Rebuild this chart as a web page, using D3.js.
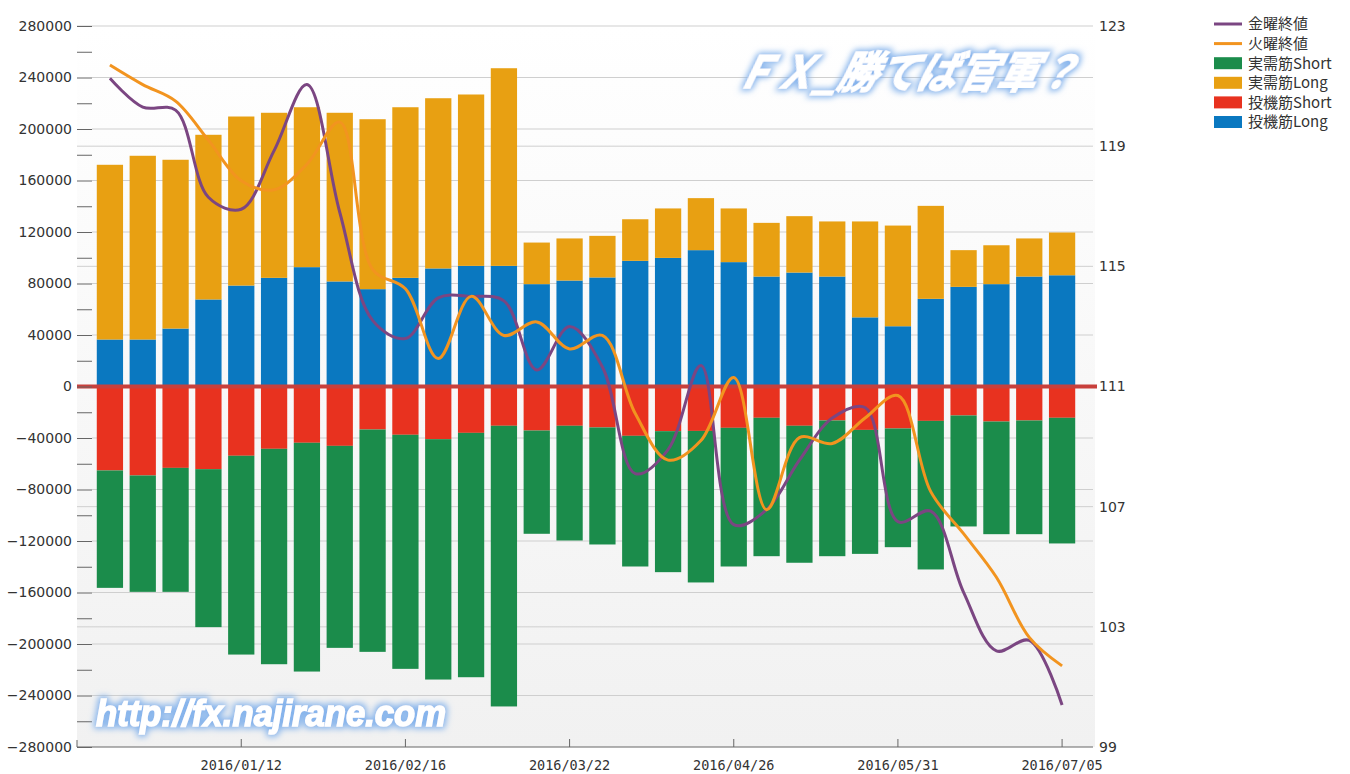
<!DOCTYPE html>
<meta charset="utf-8">
<style>
body { margin: 0; background: #fff; }
.axis text { font-family: "DejaVu Sans", sans-serif; font-size: 14px; fill: #333; }
.axis--x text { font-family: "DejaVu Sans Mono", monospace; font-size: 13.5px; }
.axis line { stroke: #666; }
.grid line { stroke: #cfcfcf; }
.legend text { font-family: "Noto Sans CJK JP", sans-serif; font-size: 15px; fill: #333; }
.mark { font-weight: bold; fill: #fff; font-style: italic; stroke: #fff; stroke-width: 1.5; }
</style>
<svg width="1350" height="774"></svg>
<script src="https://d3js.org/d3.v7.min.js"></script>
<script>

var dates = ["2015/12/15","2015/12/22","2015/12/29","2016/01/05","2016/01/12","2016/01/19",
  "2016/01/26","2016/02/02","2016/02/09","2016/02/16","2016/02/23","2016/03/01",
  "2016/03/08","2016/03/15","2016/03/22","2016/03/29","2016/04/05","2016/04/12",
  "2016/04/19","2016/04/26","2016/05/03","2016/05/10","2016/05/17","2016/05/24",
  "2016/05/31","2016/06/07","2016/06/14","2016/06/21","2016/06/28","2016/07/05"];

// 投機筋Long
var specLong = [36500, 36500, 45000, 67600, 78400, 84400, 92700, 81600, 75600, 84400,
  91700, 93700, 93700, 79500, 82300, 84700, 97600, 99900, 105900, 96600,
  85400, 88500, 85400, 53700, 46800, 68100, 77400, 79500, 85400, 86400];
// 実需筋Long
var commLong = [135700, 142700, 131100, 127900, 131300, 128200, 124200, 131000, 132000, 132500,
  132200, 133100, 153500, 32300, 32700, 32300, 32300, 38400, 40400, 41700,
  41700, 43800, 42800, 74500, 78200, 72200, 28500, 30200, 29600, 33200];
// 投機筋Short
var specShort = [-65200, -69100, -63200, -64200, -53800, -48400, -43700, -46100, -33400, -37500,
  -40900, -36000, -30500, -34200, -30500, -31800, -38300, -34700, -34500, -32100,
  -24300, -30500, -26400, -33700, -32600, -26700, -22500, -27200, -26400, -24300];
// 実需筋Short
var commShort = [-91200, -90400, -96300, -122700, -154400, -167300, -177700, -156900, -172700, -181800,
  -186700, -189800, -218000, -80200, -89100, -90900, -101500, -109500, -117700, -107700,
  -107500, -106400, -105400, -96300, -92200, -115400, -86200, -87500, -88300, -97600];

// 金曜終値 / 火曜終値
var friClose = [121.26, 120.3, 120.2, 117.3, 116.9, 118.85, 121.05, 116.8, 113.2, 112.6,
  113.95, 114.0, 113.85, 111.55, 113.0, 111.65, 108.1, 108.9, 111.7, 106.4,
  106.9, 108.55, 109.95, 110.3, 106.5, 106.85, 104.15, 102.2, 102.55, 100.4];
var tueClose = [121.7, 121.05, 120.5, 119.2, 117.85, 117.55, 118.4, 119.8, 114.9, 114.25,
  111.93, 114.0, 112.7, 113.15, 112.25, 112.7, 110.1, 108.55, 109.2, 111.3,
  106.9, 109.3, 109.1, 109.95, 110.7, 107.5, 106.1, 104.65, 102.65, 101.7];

var leftTicks = d3.range(-280000, 280001, 40000),
    leftMinor = d3.range(-260000, 280000, 40000),
    rightTicks = [99, 103, 107, 111, 115, 119, 123],
    dateTicks = ["2016/01/12","2016/02/16","2016/03/22","2016/04/26","2016/05/31","2016/07/05"];

var series = [
  {key: "specLong", name: "投機筋Long", color: "#0a78c0", values: specLong},
  {key: "commLong", name: "実需筋Long", color: "#e8a012", values: commLong},
  {key: "specShort", name: "投機筋Short", color: "#e8321f", values: specShort},
  {key: "commShort", name: "実需筋Short", color: "#1b8c4b", values: commShort}
];
var lines = [
  {name: "金曜終値", color: "#7b4682", values: friClose},
  {name: "火曜終値", color: "#f2941f", values: tueClose}
];

var svg = d3.select("svg"),
    axisL = 77, plotL = 92, plotR = 1093, plotTop = 26, plotBottom = 747;

var x = d3.scaleBand().domain(dates).range([93.5, 1078.5]).paddingInner(0.2).paddingOuter(0.1),
    yL = d3.scaleLinear().domain([-280000, 280000]).range([plotBottom, plotTop]),
    yR = d3.scaleLinear().domain([99, 123]).range([plotBottom, plotTop]);

var defs = svg.append("defs");
var grad = defs.append("linearGradient").attr("id", "bg").attr("x1", 0).attr("y1", 0).attr("x2", 0).attr("y2", 1);
grad.append("stop").attr("offset", "0%").attr("stop-color", "#ffffff");
grad.append("stop").attr("offset", "100%").attr("stop-color", "#f1f1f1");

var glow = defs.append("filter").attr("id", "glow").attr("x", "-20%").attr("y", "-50%").attr("width", "140%").attr("height", "200%");
glow.append("feMorphology").attr("operator", "dilate").attr("radius", 2).attr("in", "SourceAlpha").attr("result", "d");
glow.append("feGaussianBlur").attr("in", "d").attr("stdDeviation", 3).attr("result", "b");
glow.append("feFlood").attr("flood-color", "#86b4ec").attr("result", "c");
glow.append("feComposite").attr("in", "c").attr("in2", "b").attr("operator", "in").attr("result", "g");
var mg = glow.append("feMerge");
mg.append("feMergeNode").attr("in", "g");
mg.append("feMergeNode").attr("in", "SourceGraphic");

svg.append("rect")
    .attr("x", axisL).attr("y", plotTop)
    .attr("width", 1095 - axisL).attr("height", plotBottom - plotTop)
    .attr("fill", "url(#bg)");

// grid lines
var grid = svg.append("g").attr("class", "grid");
grid.selectAll(".gl").data(leftTicks.slice(1, -1))
  .enter().append("line")
    .attr("x1", plotL).attr("x2", plotR)
    .attr("y1", function(d) { return yL(d); }).attr("y2", function(d) { return yL(d); });
grid.selectAll(".gr").data(rightTicks.slice(1))
  .enter().append("line")
    .attr("x1", axisL).attr("x2", plotR)
    .attr("y1", function(d) { return yR(d); }).attr("y2", function(d) { return yR(d); });

// stacked bars
var table = dates.map(function(d, i) {
  var row = {date: d};
  series.forEach(function(s) { row[s.key] = s.values[i]; });
  return row;
});
var stack = d3.stack().keys(series.map(function(s) { return s.key; })).offset(d3.stackOffsetDiverging);
var layers = stack(table);

svg.append("g").selectAll("g")
  .data(layers)
  .enter().append("g")
    .attr("fill", function(d, i) { return series[i].color; })
  .selectAll("rect")
  .data(function(d) { return d; })
  .enter().append("rect")
    .attr("x", function(d) { return x(d.data.date); })
    .attr("width", x.bandwidth())
    .attr("y", function(d) { return yL(d[1]); })
    .attr("height", function(d) { return yL(d[0]) - yL(d[1]); });

// zero line
svg.append("line")
    .attr("x1", axisL).attr("x2", 1097)
    .attr("y1", yL(0)).attr("y2", yL(0))
    .attr("stroke", "#c8403c").attr("stroke-width", 4);

// close price lines
var line = d3.line()
    .x(function(d, i) { return x(dates[i]) + x.bandwidth() / 2; })
    .y(function(d) { return yR(d); })
    .curve(d3.curveCatmullRom.alpha(0.5));

svg.append("g").selectAll("path")
  .data(lines)
  .enter().append("path")
    .attr("fill", "none")
    .attr("stroke", function(d) { return d.color; })
    .attr("stroke-width", 3)
    .attr("d", function(d) { return line(d.values); });

// axes
svg.append("g")
    .attr("class", "axis axis--y")
    .attr("transform", "translate(" + plotL + ",0)")
    .call(d3.axisLeft(yL).tickValues(leftTicks).tickFormat(d3.format("d")).tickSize(15).tickPadding(5))
    .call(function(g) { g.select(".domain").remove(); });

svg.append("g")
    .attr("class", "axis")
    .attr("transform", "translate(" + plotL + ",0)")
    .call(d3.axisLeft(yL).tickValues(leftMinor).tickSize(15).tickFormat(""))
    .call(function(g) { g.select(".domain").remove(); });

svg.append("g")
    .attr("class", "axis axis--r")
    .attr("transform", "translate(" + plotR + ",0)")
    .call(d3.axisRight(yR).tickValues(rightTicks).tickSize(0).tickPadding(6))
    .call(function(g) { g.select(".domain").remove(); });

svg.append("g")
    .attr("class", "axis axis--x")
    .attr("transform", "translate(0," + plotBottom + ")")
    .call(d3.axisBottom(x).tickValues(dateTicks).tickSizeInner(-8).tickSizeOuter(0).tickPadding(13))
    .call(function(g) { g.select(".domain").remove(); });

svg.append("path")
    .attr("d", "M" + axisL + "," + (plotBottom - 7) + "V" + plotBottom + "H" + plotR)
    .attr("fill", "none").attr("stroke", "#666");

// legend
var legend = svg.append("g").attr("class", "legend");
var items = [
  {name: lines[0].name, color: lines[0].color, type: "line"},
  {name: lines[1].name, color: lines[1].color, type: "line"},
  {name: series[3].name, color: series[3].color, type: "rect"},
  {name: series[1].name, color: series[1].color, type: "rect"},
  {name: series[2].name, color: series[2].color, type: "rect"},
  {name: series[0].name, color: series[0].color, type: "rect"}
];
var li = legend.selectAll("g").data(items).enter().append("g")
    .attr("transform", function(d, i) { return "translate(1214," + (24 + i * 19.6) + ")"; });
li.filter(function(d) { return d.type === "line"; }).append("line")
    .attr("x1", 0).attr("x2", 28).attr("stroke", function(d) { return d.color; }).attr("stroke-width", 3);
li.filter(function(d) { return d.type === "rect"; }).append("rect")
    .attr("x", 0).attr("y", -6).attr("width", 28).attr("height", 12).attr("fill", function(d) { return d.color; });
li.append("text").attr("x", 34).attr("dy", "0.36em").text(function(d) { return d.name; });

// watermarks
svg.append("text")
    .attr("class", "mark")
    .attr("filter", "url(#glow)")
    .attr("transform", "translate(733,88) skewX(-14)")
    .attr("font-family", "Noto Sans CJK JP")
    .attr("font-size", 44)
    .attr("textLength", 342).attr("lengthAdjust", "spacingAndGlyphs")
    .text("ＦＸ_勝てば官軍？");

svg.append("text")
    .attr("class", "mark")
    .attr("filter", "url(#glow)")
    .attr("transform", "translate(96,726)")
    .attr("font-family", "Liberation Sans")
    .attr("font-size", 36)
    .attr("textLength", 350).attr("lengthAdjust", "spacingAndGlyphs")
    .text("http://fx.najirane.com");

</script>
